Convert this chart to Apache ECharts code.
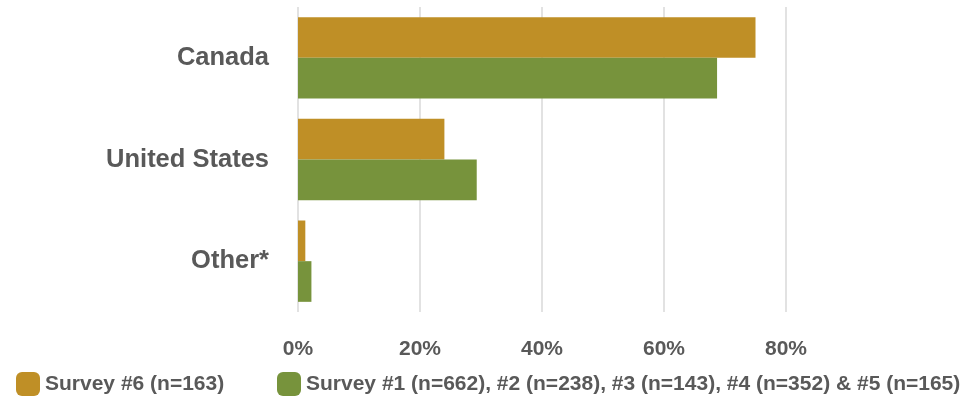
<!DOCTYPE html>
<html><head><meta charset="utf-8">
<script src="https://cdn.jsdelivr.net/npm/echarts@6/dist/echarts.min.js"></script>
<style>html,body{margin:0;padding:0;background:#fff}#c{width:968px;height:398px}</style>
</head><body><div id="c"></div>
<script>
const categories = ["Canada", "United States", "Other*"];
const survey6 = [75.0, 24.0, 1.2];
const surveys1to5 = [68.7, 29.3, 2.2];
const seriesNames = ["Survey #6 (n=163)", "Survey #1 (n=662), #2 (n=238), #3 (n=143), #4 (n=352) & #5 (n=165)"];
const xTicks = [0, 20, 40, 60, 80];

const FONT = "'Liberation Sans Narrow', 'Liberation Sans', sans-serif";
const chart = echarts.init(document.getElementById('c'));
chart.setOption({
  animation: false,
  textStyle: { fontFamily: FONT },
  grid: { left: 298, right: 182, top: 7, bottom: 86, containLabel: false },
  xAxis: {
    type: 'value', min: xTicks[0], max: xTicks[xTicks.length - 1], interval: 20,
    axisLine: { show: false }, axisTick: { show: false },
    splitLine: { show: true, lineStyle: { color: '#d9d9d9', width: 1.5 } },
    axisLabel: { formatter: v => v + '%', color: '#595959', fontSize: 21, fontWeight: 'bold', fontFamily: FONT, margin: 27 }
  },
  yAxis: {
    type: 'category', data: categories, inverse: true,
    axisLine: { show: false }, axisTick: { show: false },
    axisLabel: { color: '#595959', fontSize: 25.5, fontWeight: 'bold', fontFamily: FONT, margin: 29 }
  },
  legend: [
    { data: [seriesNames[0]], left: 11, top: 367, itemWidth: 24, itemHeight: 24, icon: 'roundRect',
      textStyle: { color: '#595959', fontSize: 21, fontWeight: 'bold', fontFamily: FONT } },
    { data: [seriesNames[1]], left: 272, top: 367, itemWidth: 24, itemHeight: 24, icon: 'roundRect',
      textStyle: { color: '#595959', fontSize: 21, fontWeight: 'bold', fontFamily: FONT } }
  ],
  series: [
    { name: seriesNames[0], type: 'bar', data: survey6, barGap: '0%', barCategoryGap: '20%',
      itemStyle: { color: '#BF8F26' } },
    { name: seriesNames[1], type: 'bar', data: surveys1to5, barGap: '0%', barCategoryGap: '20%',
      itemStyle: { color: '#77933C' } }
  ]
});
</script></body></html>
